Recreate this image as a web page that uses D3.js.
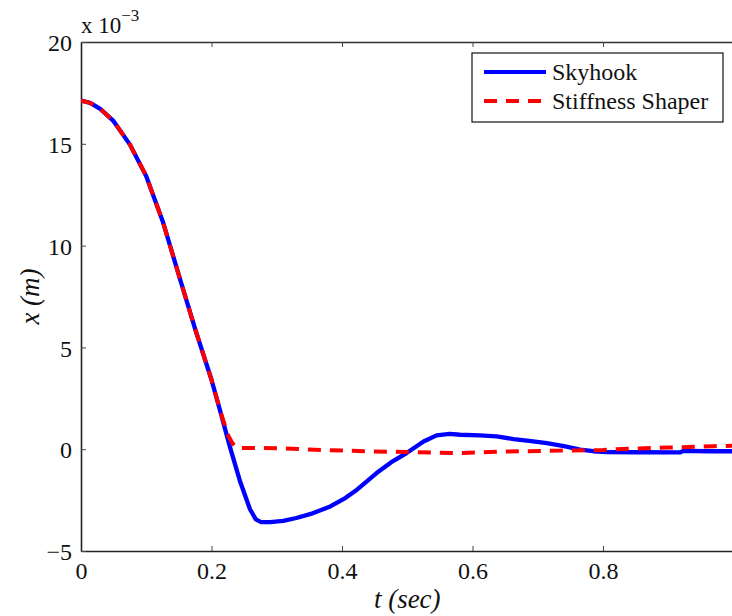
<!DOCTYPE html>
<html>
<head>
<meta charset="utf-8">
<script src="https://cdn.jsdelivr.net/npm/d3@7"></script>
<style>
  body { margin: 0; background: #fff; }
  svg { display: block; font-family: "Liberation Serif", "Times New Roman", serif; }
</style>
</head>
<body>
<svg id="chart" width="732" height="616"></svg>
<script>
// values, x in units of 1e-3 m
var skyT = [0, 0.014, 0.03, 0.05, 0.075, 0.1, 0.126, 0.152, 0.175, 0.2, 0.214, 0.228, 0.244, 0.259, 0.268, 0.276,
    0.29, 0.31, 0.33, 0.355, 0.382, 0.405, 0.423, 0.453, 0.475, 0.499, 0.525, 0.545, 0.565, 0.581, 0.611,
    0.637, 0.663, 0.69, 0.714, 0.74, 0.765, 0.785, 0.806, 0.85, 0.918, 0.923, 0.96, 1.0];
var skyX = [17.12, 17.01, 16.7, 16.11, 14.96, 13.41, 11.12, 8.33, 5.9, 3.41, 1.8, 0.14, -1.6, -2.95, -3.45, -3.58,
    -3.58, -3.52, -3.38, -3.15, -2.81, -2.4, -1.99, -1.17, -0.65, -0.19, 0.38, 0.68, 0.75, 0.71, 0.68,
    0.63, 0.5, 0.4, 0.3, 0.15, -0.02, -0.1, -0.14, -0.15, -0.16, -0.08, -0.1, -0.1];

var shapT = [0, 0.014, 0.03, 0.05, 0.075, 0.1, 0.126, 0.152, 0.175, 0.2, 0.214, 0.226, 0.232, 0.238,
    0.3, 0.38, 0.45, 0.5, 0.585, 0.64, 0.734, 0.8, 0.83, 0.9, 0.97, 1.0];
var shapX = [17.12, 17.01, 16.7, 16.11, 14.96, 13.41, 11.12, 8.33, 5.9, 3.41, 1.8, 0.65, 0.3, 0.06,
    0.05, -0.05, -0.11, -0.14, -0.19, -0.12, -0.07, -0.04, 0.01, 0.08, 0.15, 0.17];

var xTicks = [0, 0.2, 0.4, 0.6, 0.8];
var yTicks = [-5, 0, 5, 10, 15, 20];
var seriesNames = ["Skyhook", "Stiffness Shaper"];

var svg = d3.select("#chart");
var plotLeft = 81, plotTop = 42, plotRight = 733.5, plotBottom = 551;

var x = d3.scaleLinear().domain([0, 1]).range([plotLeft, plotRight]);
var y = d3.scaleLinear().domain([-5, 20]).range([plotBottom, plotTop]);

svg.append("clipPath").attr("id", "plotclip")
    .append("rect").attr("x", plotLeft).attr("y", plotTop)
    .attr("width", plotRight - plotLeft).attr("height", plotBottom - plotTop);

// ticks inside the box
var gx = svg.append("g").attr("transform", "translate(0," + plotBottom + ")")
    .call(d3.axisBottom(x).tickValues(xTicks).tickSizeInner(-5).tickSizeOuter(0)
        .tickFormat(function (d) { return d === 0 ? "0" : d3.format(".1f")(d); }));
var gxTop = svg.append("g").attr("transform", "translate(0," + plotTop + ")")
    .call(d3.axisTop(x).tickValues(xTicks).tickSizeInner(-5).tickSizeOuter(0).tickFormat(""));
var gy = svg.append("g").attr("transform", "translate(" + plotLeft + ",0)")
    .call(d3.axisLeft(y).tickValues(yTicks).tickSizeInner(-5).tickSizeOuter(0)
        .tickPadding(9).tickFormat(function (d) { return d < 0 ? "\u2212" + Math.abs(d) : d; }));

[gx, gxTop, gy].forEach(function (g) {
    g.select(".domain").attr("stroke", "#222").attr("stroke-width", 1.6);
    g.selectAll(".tick line").attr("stroke", "#444").attr("stroke-width", 1);
    g.selectAll(".tick text").attr("font-size", 24).attr("fill", "#111")
        .attr("font-family", "Liberation Serif, Times New Roman, serif");
});
gxTop.select(".domain").attr("stroke", "#333");
gx.selectAll(".tick text").attr("y", 28).attr("dy", 0);
gy.selectAll(".tick text").attr("dy", "0.36em");

var line = d3.line()
    .x(function (d) { return x(d[0]); })
    .y(function (d) { return y(d[1]); });

var plot = svg.append("g").attr("clip-path", "url(#plotclip)");
plot.append("path")
    .datum(d3.zip(skyT, skyX))
    .attr("d", line)
    .attr("fill", "none").attr("stroke", "#0000ff").attr("stroke-width", 4.3)
    .attr("stroke-linejoin", "round");
plot.append("path")
    .datum(d3.zip(shapT, shapX))
    .attr("d", line)
    .attr("fill", "none").attr("stroke", "#ff0000").attr("stroke-width", 4)
    .attr("stroke-dasharray", "13,9");

// exponent label
var expo = svg.append("text").attr("x", plotLeft).attr("y", 33).attr("font-size", 23).attr("fill", "#111");
expo.append("tspan").text("x 10");
expo.append("tspan").attr("dy", -12).attr("font-size", 17).text("\u22123");

// axis titles
svg.append("text")
    .attr("x", (plotLeft + plotRight) / 2).attr("y", 608)
    .attr("text-anchor", "middle").attr("font-size", 27).attr("font-style", "italic")
    .attr("fill", "#111").text("t (sec)");
svg.append("text")
    .attr("transform", "translate(39," + ((plotTop + plotBottom) / 2) + ") rotate(-90)")
    .attr("text-anchor", "middle").attr("font-size", 27).attr("font-style", "italic")
    .attr("fill", "#111").text("x (m)");

// legend
var legend = svg.append("g");
legend.append("rect").attr("x", 472).attr("y", 53).attr("width", 251).attr("height", 69)
    .attr("fill", "#fff").attr("stroke", "#111").attr("stroke-width", 1.2);
var rows = [{ color: "#0000ff", dash: null }, { color: "#ff0000", dash: "13,9" }];
rows.forEach(function (r, i) {
    var yy = 72 + i * 29;
    legend.append("line").attr("x1", 484).attr("x2", 546).attr("y1", yy).attr("y2", yy)
        .attr("stroke", r.color).attr("stroke-width", 4)
        .attr("stroke-dasharray", r.dash);
    legend.append("text").attr("x", 552).attr("y", yy).attr("dy", "0.35em")
        .attr("font-size", 24).attr("fill", "#111").text(seriesNames[i]);
});
</script>
</body>
</html>
